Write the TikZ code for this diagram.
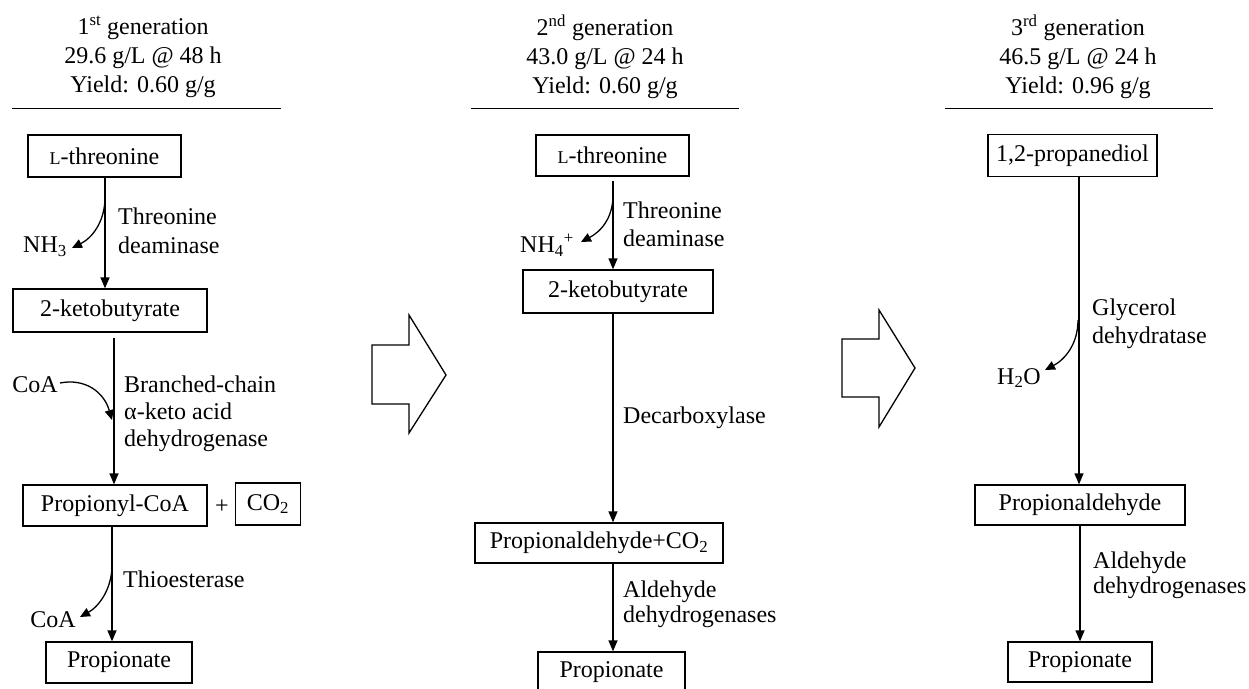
\documentclass[tikz,border=0pt]{standalone}
\usepackage{fontspec}
\setmainfont{Liberation Serif}
\usetikzlibrary{arrows.meta}
\newcommand{\smL}{{\fontsize{18}{18}\selectfont L}}
\begin{document}
\begin{tikzpicture}[x=1pt,y=-1pt,
  every node/.style={inner sep=0pt, font=\fontsize{24}{27}\selectfont},
  box/.style={draw, line width=1.3pt, minimum height=41pt, align=center},
  lbl/.style={anchor=west, align=left},
  hdr/.style={align=center, font=\fontsize{24}{29}\selectfont},
  arr/.style={line width=1.3pt, -{Triangle[length=11pt,width=9pt]}},
  carr/.style={line width=1.3pt, -{Triangle[length=10pt,width=9pt]}},
  bigarrow/.style={line width=1.3pt, line join=miter},
  rule/.style={line width=0.9pt}
]
\useasboundingbox (0,0) rectangle (1249,688);

% headers
\node[hdr] (h1) at (143,57) {1\textsuperscript{st} generation\\29.6 g/L @ 48 h\\Yield: 0.60 g/g};
\node[hdr] (h2) at (605,57) {2\textsuperscript{nd} generation\\43.0 g/L @ 24 h\\Yield: 0.60 g/g};
\node[hdr] (h3) at (1078,57) {3\textsuperscript{rd} generation\\46.5 g/L @ 24 h\\Yield: 0.96 g/g};
\coordinate (r1a) at (12,108); \coordinate (r1b) at (281,108);
\coordinate (r2a) at (471,108); \coordinate (r2b) at (739,108);
\coordinate (r3a) at (945,108); \coordinate (r3b) at (1213,108);
\draw[rule] (r1a) -- (r1b);
\draw[rule] (r2a) -- (r2b);
\draw[rule] (r3a) -- (r3b);

% ---------- column 1 ----------
\node[box, minimum width=153pt, minimum height=42pt] (thr1) at (104.5,156) {\smL-threonine};
\node[box, minimum width=194pt, minimum height=43pt] (kb1) at (110,310.5) {2-ketobutyrate};
\node[box, minimum width=184pt] (pc1) at (115,505.5) {Propionyl-CoA};
\node (plus) at (222,507) {+};
\node[box, minimum width=65pt, minimum height=42pt] (co2) at (268,504) {CO\textsubscript{2}};
\node[box, minimum width=146pt] (prop1) at (119,662.5) {Propionate};

\coordinate (a1) at (105,0);
\coordinate (a2) at (114,0);
\coordinate (a3) at (112,0);
\draw[arr] (thr1.south -| a1) -- (kb1.north -| a1);
\draw[arr, shorten <=5pt] (kb1.south -| a2) -- (pc1.north -| a2);
\draw[arr] (pc1.south -| a3) -- (prop1.north -| a3);

\node (nh3) at (45,247) {NH\textsubscript{3}};
\coordinate (c1s) at (105,197);
\coordinate (c1e) at (72,248);
\draw[carr] (c1s) .. controls (105,222) and (92,238) .. (c1e);
\node[lbl, font=\fontsize{24}{29}\selectfont] (l1) at (118,230.5) {Threonine\\deaminase};

\node (coa1) at (35,385) {CoA};
\coordinate (c2s) at (60,383);
\coordinate (c2e) at (112,420);
\draw[carr] (c2s) .. controls (85,378) and (104,392) .. (c2e);
\node[lbl] (l2) at (124,414) {Branched-chain\\α-keto acid\\dehydrogenase};

\node (coa2) at (53,620) {CoA};
\coordinate (c3s) at (112,565);
\coordinate (c3e) at (80,617);
\draw[carr] (c3s) .. controls (112,590) and (98,607) .. (c3e);
\node[lbl] (l3) at (123,579) {Thioesterase};

% big arrows
\draw[bigarrow] (372,345) -- (409,345) -- (409,315) -- (446,375) -- (409,433) -- (409,404) -- (372,404) -- cycle;
\draw[bigarrow] (842,339) -- (879,339) -- (879,310) -- (915,368) -- (879,427) -- (879,397) -- (842,397) -- cycle;

% ---------- column 2 ----------
\node[box, minimum width=153pt] (thr2) at (612.5,155.5) {\smL-threonine};
\node[box, minimum width=190pt, minimum height=43pt] (kb2) at (618,291.5) {2-ketobutyrate};
\node[box, minimum width=248pt, minimum height=40pt] (pa2) at (599,543) {Propionaldehyde+CO\textsubscript{2}};
\node[box, minimum width=147pt, minimum height=40pt] (prop2) at (611.5,672) {Propionate};

\coordinate (b1) at (613,0);
\draw[arr, shorten <=4pt] (thr2.south -| b1) -- (kb2.north -| b1);
\draw[arr] (kb2.south -| b1) -- (pa2.north -| b1);
\draw[arr] (pa2.south -| b1) -- (prop2.north -| b1);

\node (nh4) at (547,245) {NH\textsubscript{4}\textsuperscript{+}};
\coordinate (d1s) at (613,195);
\coordinate (d1e) at (581,242);
\draw[carr] (d1s) .. controls (613,219) and (600,232) .. (d1e);
\node[lbl, font=\fontsize{24}{28}\selectfont] (l4) at (623,224) {Threonine\\deaminase};
\node[lbl] (l5) at (623,418) {Decarboxylase};
\node[lbl, font=\fontsize{24}{25}\selectfont] (l6) at (623,604.5) {Aldehyde\\dehydrogenases};

% ---------- column 3 ----------
\node[box, minimum width=169pt, minimum height=42pt] (pd3) at (1072.5,155.5) {1,2-propanediol};
\node[box, minimum width=210pt, minimum height=40pt] (pa3) at (1080,505) {Propionaldehyde};
\node[box, minimum width=144pt, minimum height=40pt] (prop3) at (1080,662) {Propionate};

\coordinate (e1) at (1079,0);
\coordinate (e2) at (1080,0);
\draw[arr] (pd3.south -| e1) -- (pa3.north -| e1);
\draw[arr] (pa3.south -| e2) -- (prop3.north -| e2);

\node (h2o) at (1019,378) {H\textsubscript{2}O};
\coordinate (f1s) at (1078,320);
\coordinate (f1e) at (1045,370);
\draw[carr] (f1s) .. controls (1078,345) and (1064,360) .. (f1e);
\node[lbl, font=\fontsize{24}{28}\selectfont] (l7) at (1092,324) {Glycerol\\dehydratase};
\node[lbl, font=\fontsize{24}{25}\selectfont] (l8) at (1093,575.5) {Aldehyde\\dehydrogenases};

\end{tikzpicture}
\end{document}
